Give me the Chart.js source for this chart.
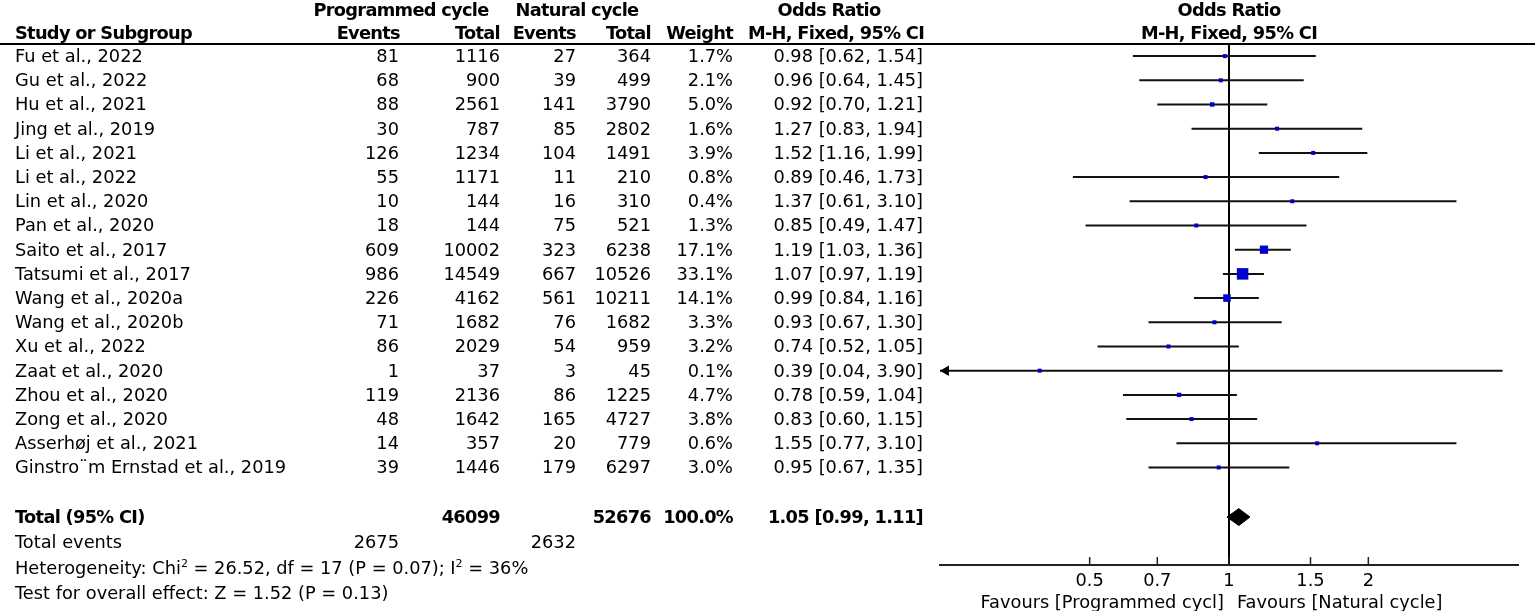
<!DOCTYPE html>
<html><head><meta charset="utf-8">
<script src="https://cdn.jsdelivr.net/npm/chart.js@4.4.0/dist/chart.umd.min.js"></script>
<style>
html,body{margin:0;padding:0;background:#fff;overflow:hidden;}
#wrap{position:relative;width:1535px;height:611px;}
canvas{position:absolute;left:0;top:0;}
.t{position:absolute;font-family:"DejaVu Sans",sans-serif;font-size:17.8px;line-height:22px;height:22px;white-space:nowrap;color:#000;}
.b{font-weight:bold;letter-spacing:-0.7px;}
#hline{position:absolute;left:0;top:43px;width:1535px;height:0;border-top:2px solid #000;}
sup{font-size:11px;line-height:0;vertical-align:7px;}
</style></head>
<body><div id="wrap"><canvas id="c" width="1535" height="611"></canvas><div id="hline"></div></div>
<script>
const studies = ["Fu et al., 2022","Gu et al., 2022","Hu et al., 2021","Jing et al., 2019","Li et al., 2021","Li et al., 2022","Lin et al., 2020","Pan et al., 2020","Saito et al., 2017","Tatsumi et al., 2017","Wang et al., 2020a","Wang et al., 2020b","Xu et al., 2022","Zaat et al., 2020","Zhou et al., 2020","Zong et al., 2020","Asserhøj et al., 2021","Ginstro¨m Ernstad et al., 2019"];
const progEvents = [81,68,88,30,126,55,10,18,609,986,226,71,86,1,119,48,14,39];
const progTotal = [1116,900,2561,787,1234,1171,144,144,10002,14549,4162,1682,2029,37,2136,1642,357,1446];
const natEvents = [27,39,141,85,104,11,16,75,323,667,561,76,54,3,86,165,20,179];
const natTotal = [364,499,3790,2802,1491,210,310,521,6238,10526,10211,1682,959,45,1225,4727,779,6297];
const weights = [1.7,2.1,5.0,1.6,3.9,0.8,0.4,1.3,17.1,33.1,14.1,3.3,3.2,0.1,4.7,3.8,0.6,3.0];
const orEst = [0.98,0.96,0.92,1.27,1.52,0.89,1.37,0.85,1.19,1.07,0.99,0.93,0.74,0.39,0.78,0.83,1.55,0.95];
const orLo = [0.62,0.64,0.70,0.83,1.16,0.46,0.61,0.49,1.03,0.97,0.84,0.67,0.52,0.04,0.59,0.60,0.77,0.67];
const orHi = [1.54,1.45,1.21,1.94,1.99,1.73,3.10,1.47,1.36,1.19,1.16,1.30,1.05,3.90,1.04,1.15,3.10,1.35];
const totalEventsProg = 2675, totalEventsNat = 2632;
const totalProg = 46099, totalNat = 52676;
const pooledOR = [1.05, 0.99, 1.11];
const tickValues = [0.5, 0.7, 1, 1.5, 2];
const heterogeneityText = 'Heterogeneity: Chi<sup>2</sup> = 26.52, df = 17 (P = 0.07); I<sup>2</sup> = 36%';
const overallText = 'Test for overall effect: Z = 1.52 (P = 0.13)';
const favoursLeft = 'Favours [Programmed cycl]';
const favoursRight = 'Favours [Natural cycle]';

const axisMin = 0.2375, axisMax = 1 / 0.2375;
const totalRow = 19.05;
const diamondHalf = 0.35;

const ciSets = studies.map((s, i) => ({
  type: 'scatter', showLine: true,
  data: [{x: orLo[i], y: i}, {x: orHi[i], y: i}],
  borderColor: '#111', borderWidth: 2, pointRadius: 0, order: 3
}));

const markerSet = {
  type: 'scatter',
  data: studies.map((s, i) => ({x: orEst[i], y: i})),
  pointStyle: 'rect',
  pointRadius: weights.map(w => Math.max(4, 2.0 * Math.sqrt(w)) / Math.SQRT2),
  backgroundColor: '#0000cc', borderWidth: 0, order: 1
};

const arrowSet = {
  type: 'scatter',
  data: studies.map((s, i) => ({x: orLo[i] < axisMin ? axisMin * 1.03 : NaN, y: i})),
  pointStyle: 'triangle', rotation: -90, pointRadius: 6,
  backgroundColor: '#000', borderColor: '#000', borderWidth: 0, clip: false, order: 2
};

const diamondSet = {
  type: 'scatter', showLine: true, fill: 'shape',
  data: [
    {x: pooledOR[1], y: totalRow},
    {x: pooledOR[0], y: totalRow - diamondHalf},
    {x: pooledOR[2], y: totalRow},
    {x: pooledOR[0], y: totalRow + diamondHalf},
    {x: pooledOR[1], y: totalRow}
  ],
  borderColor: '#000', backgroundColor: '#000', borderWidth: 1, pointRadius: 0, order: 1
};

const upTicks = {
  id: 'upTicks',
  afterDraw(chart) {
    const s = chart.scales.x, ctx = chart.ctx, b = chart.chartArea.bottom;
    ctx.save(); ctx.strokeStyle = '#222'; ctx.lineWidth = 1.5; ctx.beginPath();
    s.ticks.forEach(t => { const p = s.getPixelForValue(t.value); ctx.moveTo(p, b); ctx.lineTo(p, b - 8); });
    ctx.stroke(); ctx.restore();
  }
};

const chart = new Chart(document.getElementById('c'), {
  type: 'scatter',
  data: {datasets: [...ciSets, markerSet, arrowSet, diamondSet]},
  plugins: [upTicks],
  options: {
    animation: false, responsive: false, events: [],
    layout: {padding: {left: 940, right: 17, top: 44, bottom: 0}},
    plugins: {legend: {display: false}, tooltip: {enabled: false}},
    scales: {
      x: {
        type: 'logarithmic', min: axisMin, max: axisMax, position: 'bottom',
        afterBuildTicks: s => { s.ticks = tickValues.map(v => ({value: v})); },
        afterFit: s => { s.height = 46; },
        ticks: {autoSkip: false, maxRotation: 0, minRotation: 0, padding: 6, color: '#000',
          font: {family: 'DejaVu Sans', size: 17.8}, callback: v => String(v)},
        grid: {drawTicks: false, drawOnChartArea: true, lineWidth: 2,
          color: c => (c.tick && c.tick.value === 1) ? '#000' : 'rgba(0,0,0,0)'},
        border: {display: true, color: '#222', width: 2}
      },
      y: {type: 'linear', reverse: true, min: -0.5, max: 21.03, display: false}
    }
  }
});

const wrap = document.getElementById('wrap');
function put(html, x, y, align, bold) {
  const d = document.createElement('div');
  d.className = 't' + (bold ? ' b' : '');
  d.innerHTML = html;
  if (align === 'r') { d.style.left = (x - 500) + 'px'; d.style.width = '500px'; d.style.textAlign = 'right'; }
  else if (align === 'c') { d.style.left = (x - 300) + 'px'; d.style.width = '600px'; d.style.textAlign = 'center'; }
  else { d.style.left = x + 'px'; }
  d.style.top = (y - 11) + 'px';
  wrap.appendChild(d);
}
const ys = chart.scales.y;
const rowY = i => ys.getPixelForValue(i);

// headers
put('Programmed cycle', 401, 10, 'c', true);
put('Natural cycle', 577, 10, 'c', true);
put('Odds Ratio', 829, 10, 'c', true);
put('Odds Ratio', 1229, 10, 'c', true);
put('Study or Subgroup', 15, 33, 'l', true);
put('Events', 400, 33, 'r', true);
put('Total', 500, 33, 'r', true);
put('Events', 576, 33, 'r', true);
put('Total', 651, 33, 'r', true);
put('Weight', 733, 33, 'r', true);
put('M-H, Fixed, 95% CI', 836, 33, 'c', true);
put('M-H, Fixed, 95% CI', 1229, 33, 'c', true);

studies.forEach((s, i) => {
  const y = rowY(i);
  put(s, 15, y, 'l');
  put(String(progEvents[i]), 399, y, 'r');
  put(String(progTotal[i]), 500, y, 'r');
  put(String(natEvents[i]), 576, y, 'r');
  put(String(natTotal[i]), 651, y, 'r');
  put(weights[i].toFixed(1) + '%', 733, y, 'r');
  put(orEst[i].toFixed(2) + ' [' + orLo[i].toFixed(2) + ', ' + orHi[i].toFixed(2) + ']', 923, y, 'r');
});

const yT = rowY(totalRow);
put('Total (95% CI)', 15, yT, 'l', true);
put(String(totalProg), 500, yT, 'r', true);
put(String(totalNat), 651, yT, 'r', true);
put('100.0%', 733, yT, 'r', true);
put(pooledOR[0].toFixed(2) + ' [' + pooledOR[1].toFixed(2) + ', ' + pooledOR[2].toFixed(2) + ']', 923, yT, 'r', true);
const yE = rowY(20.1);
put('Total events', 15, yE, 'l');
put(String(totalEventsProg), 399, yE, 'r');
put(String(totalEventsNat), 576, yE, 'r');
put(heterogeneityText, 15, rowY(21.15), 'l');
put(overallText, 15, rowY(22.2), 'l');

put(favoursLeft, 1224, 602, 'r');
put(favoursRight, 1237, 602, 'l');
</script>
</body></html>
